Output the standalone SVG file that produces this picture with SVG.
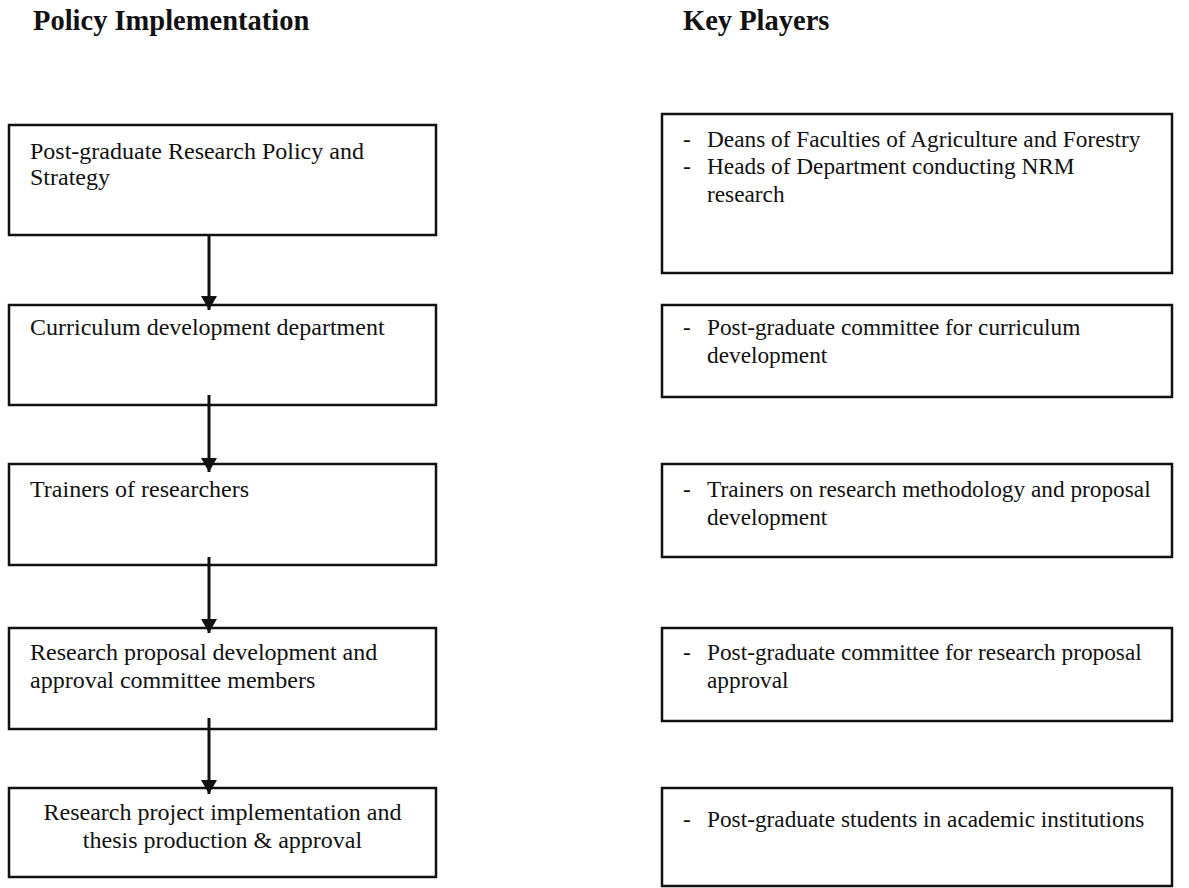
<svg xmlns="http://www.w3.org/2000/svg" width="1189" height="888" viewBox="0 0 1189 888">
<style>
.box{fill:none;stroke:#111;stroke-width:2.5}
.t{font-family:"Liberation Serif","Times New Roman",serif;font-size:24px;fill:#111}
.r{font-family:"Liberation Serif","Times New Roman",serif;font-size:23.3px;fill:#111}
.h{font-family:"Liberation Serif","Times New Roman",serif;font-size:28.5px;font-weight:bold;fill:#111}
.c{stroke:#111;stroke-width:3;fill:none}
</style>
<defs>
<marker id="ah" markerUnits="userSpaceOnUse" markerWidth="18" markerHeight="16" refX="14" refY="8" orient="auto">
<path d="M0,0 L14,8 L0,16 Z" fill="#111"/>
</marker>
</defs>
<rect width="1189" height="888" fill="#fff"/>
<text class="h" x="33" y="30">Policy Implementation</text>
<text class="h" x="683" y="30">Key Players</text>

<g id="p1"><rect class="box" x="9" y="125" width="427" height="110"/>
<text class="t" x="30" y="159">Post-graduate Research Policy and</text>
<text class="t" x="30" y="185">Strategy</text></g>
<g id="p2"><rect class="box" x="9" y="305" width="427" height="100"/>
<text class="t" x="30" y="335">Curriculum development department</text></g>
<g id="p3"><rect class="box" x="9" y="464" width="427" height="101"/>
<text class="t" x="30" y="497">Trainers of researchers</text></g>
<g id="p4"><rect class="box" x="9" y="628" width="427" height="101"/>
<text class="t" x="30" y="660">Research proposal development and</text>
<text class="t" x="30" y="688">approval committee members</text></g>
<g id="p5"><rect class="box" x="9" y="788" width="427" height="89"/>
<text class="t" x="222.5" y="820" text-anchor="middle">Research project implementation and</text>
<text class="t" x="222.5" y="848" text-anchor="middle">thesis production &amp; approval</text></g>

<g id="k1"><rect class="box" x="662" y="114" width="510" height="159"/>
<text class="r" x="683" y="147">-</text><text class="r" x="707" y="147">Deans of Faculties of Agriculture and Forestry</text>
<text class="r" x="683" y="174">-</text><text class="r" x="707" y="174">Heads of Department conducting NRM</text>
<text class="r" x="707" y="202">research</text></g>
<g id="k2"><rect class="box" x="662" y="305" width="510" height="92"/>
<text class="r" x="683" y="335">-</text><text class="r" x="707" y="335">Post-graduate committee for curriculum</text>
<text class="r" x="707" y="363">development</text></g>
<g id="k3"><rect class="box" x="662" y="464" width="510" height="93"/>
<text class="r" x="683" y="497">-</text><text class="r" x="707" y="497">Trainers on research methodology and proposal</text>
<text class="r" x="707" y="525">development</text></g>
<g id="k4"><rect class="box" x="662" y="628" width="510" height="93"/>
<text class="r" x="683" y="660">-</text><text class="r" x="707" y="660">Post-graduate committee for research proposal</text>
<text class="r" x="707" y="688">approval</text></g>
<g id="k5"><rect class="box" x="662" y="788" width="510" height="98"/>
<text class="r" x="683" y="827">-</text><text class="r" x="707" y="827">Post-graduate students in academic institutions</text></g>

<g id="connectors">
<line class="c" x1="209" y1="235" x2="209" y2="310" marker-end="url(#ah)"/>
<line class="c" x1="209" y1="395" x2="209" y2="472" marker-end="url(#ah)"/>
<line class="c" x1="209" y1="557" x2="209" y2="633" marker-end="url(#ah)"/>
<line class="c" x1="209" y1="718" x2="209" y2="794" marker-end="url(#ah)"/>
</g>
</svg>
